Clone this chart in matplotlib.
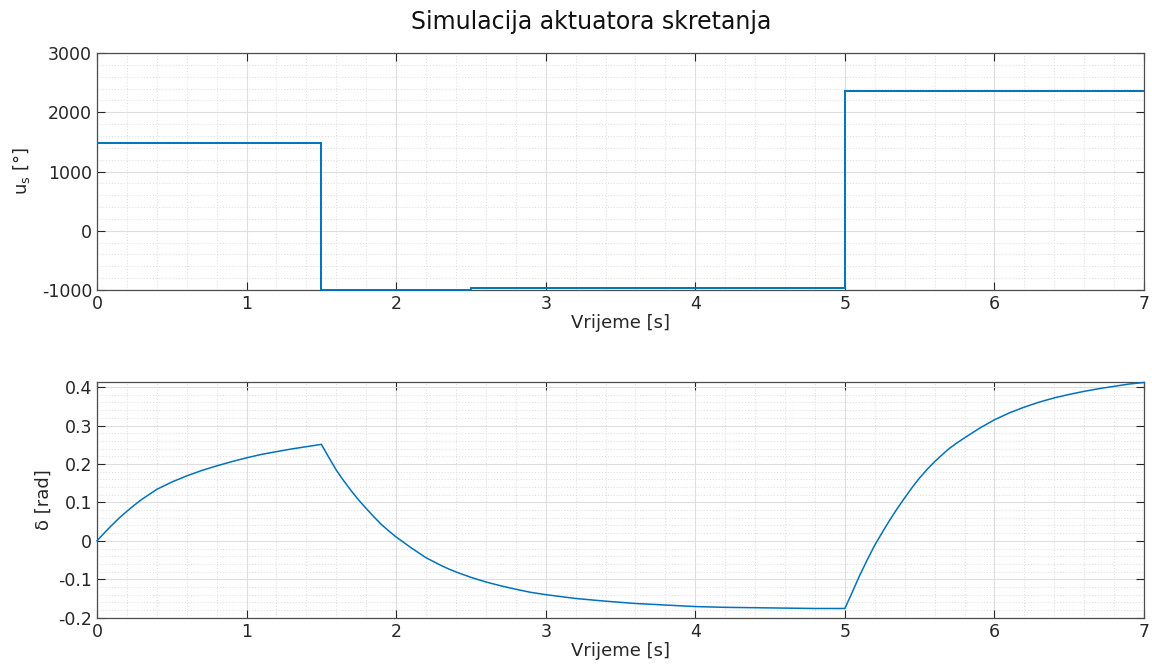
import numpy as np
import matplotlib.pyplot as plt
from matplotlib.ticker import MultipleLocator

plt.rcParams['font.family'] = ['DejaVu Sans']
plt.rcParams['mathtext.fontset'] = 'dejavusans'

# steering command (piecewise constant)
t_edges = [0, 1.5, 2.5, 5, 7]
us_values = [1480, -1000, -960, 2360]

# actuator response
t_delta = [0, 0.05, 0.1, 0.15, 0.2, 0.25, 0.3, 0.35, 0.4, 0.5, 0.6, 0.7, 0.8, 0.9,
           1.0, 1.1, 1.2, 1.3, 1.4, 1.5,
           1.55, 1.6, 1.65, 1.7, 1.75, 1.8, 1.85, 1.9, 1.95, 2.0, 2.05, 2.1, 2.15,
           2.2, 2.25, 2.3, 2.35, 2.4, 2.5, 2.6, 2.7, 2.8, 2.9, 3.0, 3.1,
           3.2, 3.4, 3.6, 3.8, 4.0, 4.2, 4.4, 4.6, 4.8, 5.0,
           5.05, 5.1, 5.15, 5.2, 5.25, 5.3, 5.35, 5.4, 5.45, 5.5, 5.55, 5.6, 5.65,
           5.7, 5.75, 5.8, 5.9, 6.0, 6.1, 6.2, 6.3, 6.4, 6.5, 6.6, 6.7, 6.8, 6.9, 7.0]
delta = [0, 0.021, 0.041, 0.060, 0.077, 0.093, 0.108, 0.121, 0.134, 0.153, 0.169, 0.183, 0.195, 0.206,
         0.216, 0.225, 0.232, 0.239, 0.245, 0.251,
         0.217, 0.184, 0.156, 0.130, 0.106, 0.084, 0.063, 0.043, 0.026, 0.010, -0.004, -0.018, -0.031,
         -0.044, -0.054, -0.064, -0.073, -0.081, -0.095, -0.107, -0.117, -0.126, -0.134, -0.140, -0.145,
         -0.150, -0.157, -0.163, -0.167, -0.171, -0.173, -0.174, -0.175, -0.176, -0.176,
         -0.133, -0.089, -0.049, -0.011, 0.022, 0.054, 0.084, 0.112, 0.139, 0.164, 0.186, 0.206, 0.224,
         0.241, 0.255, 0.268, 0.293, 0.315, 0.333, 0.348, 0.361, 0.372, 0.381, 0.389, 0.396, 0.402, 0.408, 0.412]

line_col = '#0072BD'
txt_col = '#262626'


def style_axes(ax):
    ax.set_xlim(0, 7)
    ax.xaxis.set_major_locator(MultipleLocator(1))
    ax.xaxis.set_minor_locator(MultipleLocator(0.2))
    ax.tick_params(which='both', direction='in', top=True, right=True,
                   colors=txt_col, labelsize=12.5, length=6)
    ax.tick_params(which='minor', length=0)
    ax.grid(which='major', color='#dedede', linewidth=0.8, linestyle='-')
    ax.grid(which='minor', color='#dadada', linewidth=0.7, linestyle=(0, (1, 2)))
    ax.set_axisbelow(True)
    for s in ax.spines.values():
        s.set_color('#4d4d4d')
        s.set_linewidth(0.9)
    ax.set_xlabel('Vrijeme [s]', fontsize=13, color=txt_col, labelpad=1)


fig = plt.figure(figsize=(11.52, 6.67), dpi=100)
ax1 = fig.add_axes([0.0842, 0.5652, 0.9089, 0.3553])
ax2 = fig.add_axes([0.0842, 0.0739, 0.9089, 0.3538])

ax1.stairs(us_values, t_edges, baseline=None, color=line_col, linewidth=1.4,
           clip_on=False, zorder=5)
ax1.set_ylim(-1000, 3000)
ax1.yaxis.set_minor_locator(MultipleLocator(200))
ax1.set_yticks([-1000, 0, 1000, 2000, 3000])
ax1.set_yticklabels(['-1000', '0', '1000', '2000', '3000'])
style_axes(ax1)
ax1.set_ylabel(r'u$_\mathrm{s}$ [°]', fontsize=13, color=txt_col, labelpad=7)

ax2.plot(t_delta, delta, color=line_col, linewidth=1.1, clip_on=False, zorder=5)
ax2.set_ylim(-0.2, 0.414)
ax2.yaxis.set_minor_locator(MultipleLocator(0.02))
ax2.set_yticks(np.round(np.arange(-0.2, 0.41, 0.1), 1))
ax2.set_yticklabels(['-0.2', '-0.1', '0', '0.1', '0.2', '0.3', '0.4'])
style_axes(ax2)
ax2.set_ylabel('δ [rad]', fontsize=13, color=txt_col, labelpad=4)

fig.text(0.513, 0.967, 'Simulacija aktuatora skretanja', fontsize=17,
         color='#111111', ha='center', va='center')

fig.savefig('out.png', dpi=100, facecolor='white')
